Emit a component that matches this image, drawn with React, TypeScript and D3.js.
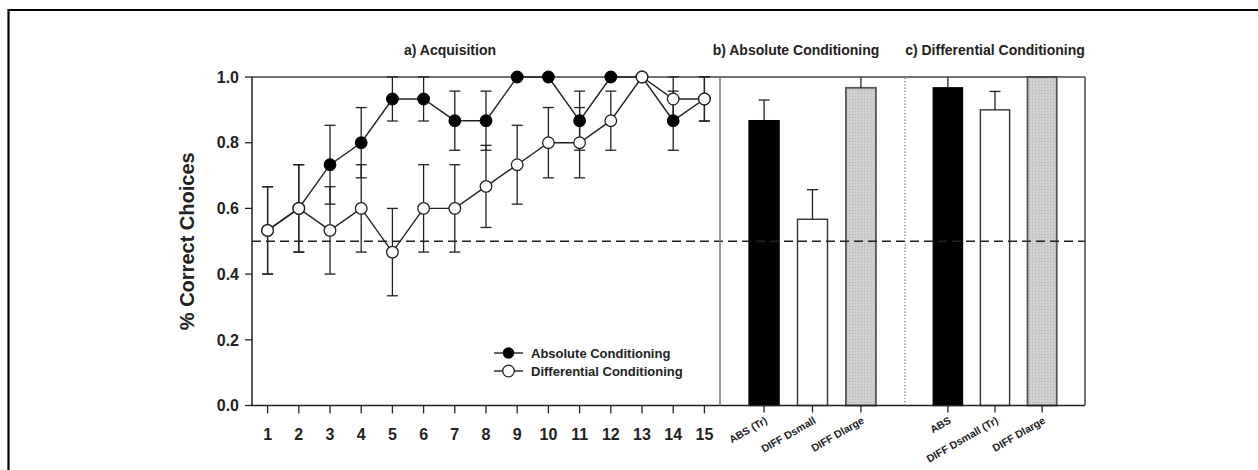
import React from 'react';
import * as d3 from 'd3';

// Acquisition sessions (panel a)
const sessions = [1, 2, 3, 4, 5, 6, 7, 8, 9, 10, 11, 12, 13, 14, 15];
const absMean = [0.533, 0.6, 0.733, 0.8, 0.933, 0.933, 0.867, 0.867, 1.0, 1.0, 0.867, 1.0, 1.0, 0.867, 0.933];
const absErr = [0.133, 0.133, 0.12, 0.107, 0.067, 0.067, 0.09, 0.09, 0, 0, 0.09, 0, 0, 0.09, 0.067];
const diffMean = [0.533, 0.6, 0.533, 0.6, 0.467, 0.6, 0.6, 0.667, 0.733, 0.8, 0.8, 0.867, 1.0, 0.933, 0.933];
const diffErr = [0.133, 0.133, 0.133, 0.133, 0.133, 0.133, 0.133, 0.125, 0.12, 0.107, 0.107, 0.09, 0, 0.067, 0.067];

// Test panels (b, c)
const absTestLabels = ['ABS (Tr)', 'DIFF Dsmall', 'DIFF Dlarge'];
const absTestMean = [0.867, 0.567, 0.967];
const absTestErr = [0.063, 0.09, 0.067];
const diffTestLabels = ['ABS', 'DIFF Dsmall (Tr)', 'DIFF Dlarge'];
const diffTestMean = [0.967, 0.9, 1.0];
const diffTestErr = [0.067, 0.056, 0];

const yTicks = [0, 0.2, 0.4, 0.6, 0.8, 1.0];
const chance = 0.5;

const FONT = '"Liberation Sans", Arial, Helvetica, sans-serif';
const INK = '#222';

const left = 252;
const sepA = 720;
const sepB = 905;
const right = 1085;

export default function App() {
  const y = d3.scaleLinear().domain([0, 1]).range([405.5, 77]);
  const x = d3.scaleLinear().domain([0.5, 15.5]).range([left, sepA]);
  const xb = d3.scaleBand<string>().domain(absTestLabels).range([sepA, sepB]).paddingInner(0.38).paddingOuter(0.6);
  const xc = d3.scaleBand<string>().domain(diffTestLabels).range([sepB, right]).paddingInner(0.38).paddingOuter(0.6);
  const fmt = d3.format('.1f');

  const line = d3.line<number>().x((_, i) => x(sessions[i])).y(d => y(d));
  const fills = ['#000', '#fff', 'url(#grain)'];
  const strokes = ['#000', '#333', '#555'];
  const cap = 5.5;

  const errBar = (cx: number, m: number, e: number, key: string, upOnly = false) => {
    if (!e) return null;
    const hi = Math.min(1, m + e);
    const lo = upOnly ? m : m - e;
    return (
      <g key={key} stroke={INK} strokeWidth={1.3}>
        <line x1={cx} x2={cx} y1={y(lo)} y2={y(hi)} />
        {m + e <= 1 && <line x1={cx - cap} x2={cx + cap} y1={y(hi)} y2={y(hi)} />}
        {!upOnly && <line x1={cx - cap} x2={cx + cap} y1={y(lo)} y2={y(lo)} />}
      </g>
    );
  };

  const bars = (scale: d3.ScaleBand<string>, labels: string[], means: number[], errs: number[], id: string) => (
    <g>
      {labels.map((l, i) => (
        <rect key={id + l} x={scale(l)} y={y(means[i])} width={scale.bandwidth()} height={y(0) - y(means[i])}
          fill={fills[i]} stroke={strokes[i]} strokeWidth={i === 2 ? 1.8 : 1.4} />
      ))}
      {labels.map((l, i) => errBar(scale(l)! + scale.bandwidth() / 2, means[i], errs[i], id + 'e' + i, true))}
      {labels.map(l => {
        const cx = scale(l)! + scale.bandwidth() / 2;
        return (
          <g key={id + 't' + l}>
            <line x1={cx} x2={cx} y1={y(0)} y2={y(0) + 7} stroke={INK} strokeWidth={1.3} />
            <text transform={`translate(${cx + 4},${y(0) + 17}) rotate(-30)`} textAnchor="end"
              fontSize={10.5} fontWeight="bold" fill={INK}>{l}</text>
          </g>
        );
      })}
    </g>
  );

  return (
    <svg width={1258} height={470} style={{ position: 'absolute', left: 0, top: 0 }} fontFamily={FONT}>
      <defs>
        <pattern id="grain" width={3} height={3} patternUnits="userSpaceOnUse">
          <rect width={3} height={3} fill="#cdcdcd" />
          <rect width={1} height={1} fill="#b5b5b5" />
          <rect x={2} y={1.5} width={1} height={1} fill="#dcdcdc" />
        </pattern>
      </defs>
      <rect x={0} y={0} width={1258} height={470} fill="#fff" />
      {/* page frame */}
      <path d="M8.5,480 V10 H1270" fill="none" stroke="#000" strokeWidth={2.2} />

      {/* panel titles */}
      <g fontSize={14} fontWeight="bold" fill={INK} textAnchor="middle">
        <text x={450} y={55}>a) Acquisition</text>
        <text x={796} y={55}>b) Absolute Conditioning</text>
        <text x={995} y={55}>c) Differential Conditioning</text>
      </g>

      {/* y axis title */}
      <text transform={`translate(194,${(y(0) + y(1)) / 2}) rotate(-90)`} textAnchor="middle"
        fontSize={20} fontWeight="bold" fill={INK}>% Correct Choices</text>

      {/* y ticks */}
      {yTicks.map(t => (
        <g key={'y' + t}>
          <line x1={left - 7} x2={left} y1={y(t)} y2={y(t)} stroke={INK} strokeWidth={1.3} />
          <text x={left - 13} y={y(t)} dy="0.36em" textAnchor="end" fontSize={16} fontWeight="bold" fill={INK}>{fmt(t)}</text>
        </g>
      ))}

      {/* x ticks panel a */}
      {sessions.map(s => (
        <g key={'x' + s}>
          <line x1={x(s)} x2={x(s)} y1={y(0)} y2={y(0) + 8} stroke={INK} strokeWidth={1.3} />
          <text x={x(s)} y={y(0) + 34} textAnchor="middle" fontSize={16} fontWeight="bold" fill={INK}>{s}</text>
        </g>
      ))}

      {/* bars */}
      {bars(xb, absTestLabels, absTestMean, absTestErr, 'b')}
      {bars(xc, diffTestLabels, diffTestMean, diffTestErr, 'c')}

      {/* chance line */}
      <line x1={left} x2={right} y1={y(chance)} y2={y(chance)} stroke={INK} strokeWidth={1.4} strokeDasharray="9,5" />

      {/* frame */}
      <g fill="none" stroke="#444" strokeWidth={1.5}>
        <line x1={left} x2={right} y1={y(1)} y2={y(1)} />
        <line x1={left - 1} x2={right} y1={y(0)} y2={y(0)} stroke={INK} />
        <line x1={left} x2={left} y1={y(0)} y2={y(1)} stroke={INK} />
        <line x1={sepA} x2={sepA} y1={y(0)} y2={y(1)} stroke="#777" />
        <line x1={right} x2={right} y1={y(0)} y2={y(1)} />
        <line x1={sepB} x2={sepB} y1={y(0)} y2={y(1)} stroke="#666" strokeWidth={1.2} strokeDasharray="1.2,2" />
      </g>

      {/* acquisition curves */}
      {sessions.map((s, i) => errBar(x(s), absMean[i], absErr[i], 'ae' + i))}
      {sessions.map((s, i) => errBar(x(s), diffMean[i], diffErr[i], 'de' + i))}
      <path d={line(absMean) ?? ''} fill="none" stroke={INK} strokeWidth={1.4} />
      <path d={line(diffMean) ?? ''} fill="none" stroke={INK} strokeWidth={1.4} />
      {sessions.map((s, i) => (
        <circle key={'am' + s} cx={x(s)} cy={y(absMean[i])} r={5.8} fill="#000" stroke="#000" strokeWidth={1.2} />
      ))}
      {sessions.map((s, i) => (
        <circle key={'dm' + s} cx={x(s)} cy={y(diffMean[i])} r={5.8} fill="#fff" stroke={INK} strokeWidth={1.3} />
      ))}

      {/* legend */}
      <g fontSize={13} fontWeight="bold" fill={INK}>
        <line x1={494} x2={523} y1={353} y2={353} stroke={INK} strokeWidth={1.4} />
        <circle cx={508.5} cy={353} r={5.8} fill="#000" />
        <text x={531} y={353} dy="0.36em">Absolute Conditioning</text>
        <line x1={494} x2={523} y1={371} y2={371} stroke={INK} strokeWidth={1.4} />
        <circle cx={508.5} cy={371} r={5.8} fill="#fff" stroke={INK} strokeWidth={1.3} />
        <text x={531} y={371} dy="0.36em">Differential Conditioning</text>
      </g>
    </svg>
  );
}
